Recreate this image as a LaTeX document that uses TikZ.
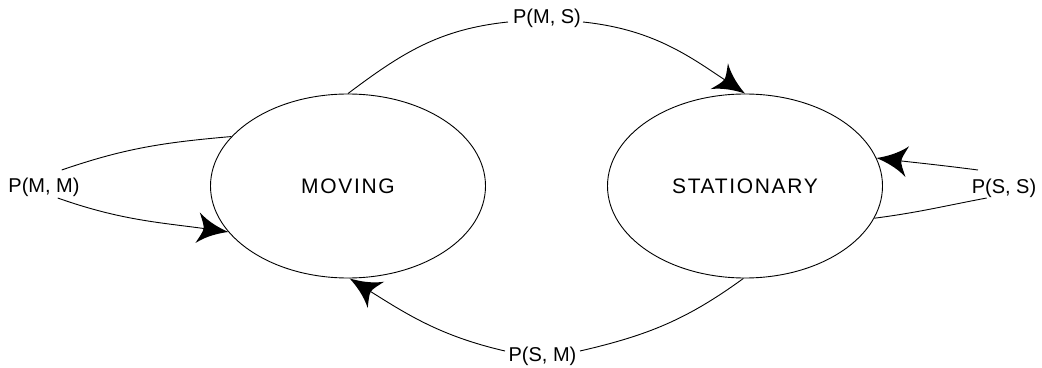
\documentclass[tikz,border=0pt]{standalone}
\usepackage{fontspec}
\setmainfont{Liberation Sans}
\newfontfamily\statefont[LetterSpace=8]{Liberation Sans}
\usetikzlibrary{shapes.geometric,arrows.meta}

% Filled arrow head with concave, swept-back sides
\pgfdeclarearrow{
  name = Swept,
  setup code = {
    \pgfarrowssettipend{0pt}
    \pgfarrowssetlineend{-22pt}
    \pgfarrowssetbackend{-31pt}
    \pgfarrowssetvisualbackend{-31pt}
    \pgfarrowsupperhullpoint{-31pt}{15.5pt}
    \pgfarrowsupperhullpoint{0pt}{0pt}
  },
  drawing code = {
    \pgfpathmoveto{\pgfqpoint{0pt}{0pt}}
    \pgfpathcurveto{\pgfqpoint{-9pt}{2.5pt}}{\pgfqpoint{-21pt}{7pt}}{\pgfqpoint{-31pt}{15.5pt}}
    \pgfpathcurveto{\pgfqpoint{-27.5pt}{8pt}}{\pgfqpoint{-25pt}{3.5pt}}{\pgfqpoint{-25pt}{0pt}}
    \pgfpathcurveto{\pgfqpoint{-25pt}{-3.5pt}}{\pgfqpoint{-27.5pt}{-8pt}}{\pgfqpoint{-31pt}{-15.5pt}}
    \pgfpathcurveto{\pgfqpoint{-21pt}{-7pt}}{\pgfqpoint{-9pt}{-2.5pt}}{\pgfqpoint{0pt}{0pt}}
    \pgfpathclose
    \pgfusepathqfill
  }
}

\tikzset{
  state/.style={ellipse, draw, line width=0.9pt, inner sep=0pt,
    minimum width=275pt, minimum height=184pt,
    font=\statefont\fontsize{21}{24}\selectfont},
  prob/.style={inner sep=2pt, font=\fontsize{20}{24}\selectfont},
  link/.style={line width=0.9pt},
  arc/.style={link, -{Swept}},
}

\begin{document}
\begin{tikzpicture}[x=1pt, y=1pt]
  \useasboundingbox (0,0) rectangle (1042,367);

  % the two states
  \node[state] (mov) at (348,181) {MOVING};
  \node[state] (sta) at (745,181) {STATIONARY};

  % transition probabilities
  \node[prob] (pms) at (547,349) {P(M, S)};
  \node[prob] (pmm) at (44,180) {P(M, M)};
  \node[prob] (pss) at (1004,179) {P(S, S)};
  \node[prob] (psm) at (542.5,11) {P(S, M)};

  % MOVING -> STATIONARY
  \draw[link] (mov.north) to[out=37, in=186] ([shift={(-39,-4)}]pms.center);
  \draw[arc] ([shift={(36,-4)}]pms.center) to[out=-6, in=146] (sta.north);

  % MOVING -> MOVING
  \draw[link] (mov.157) to[out=185, in=19] ([shift={(17.7,17)}]pmm.center);
  \draw[arc] ([shift={(13.7,-11)}]pmm.center) to[out=-19.5, in=172] (mov.201);

  % STATIONARY -> STATIONARY
  \draw[arc] ([shift={(-26,18)}]pss.center) to[out=172.6, in=-6.7] (sta.12);
  \draw[link] ([shift={(-17.3,-10)}]pss.center) to[out=190.7, in=7.4] (sta.-14.5);

  % STATIONARY -> MOVING
  \draw[link] (sta.-91) to[out=216, in=13] ([shift={(37.5,5)}]psm.center);
  \draw[arc] ([shift={(-37.5,5)}]psm.center) to[out=167, in=-32] (mov.-89);
\end{tikzpicture}
\end{document}
